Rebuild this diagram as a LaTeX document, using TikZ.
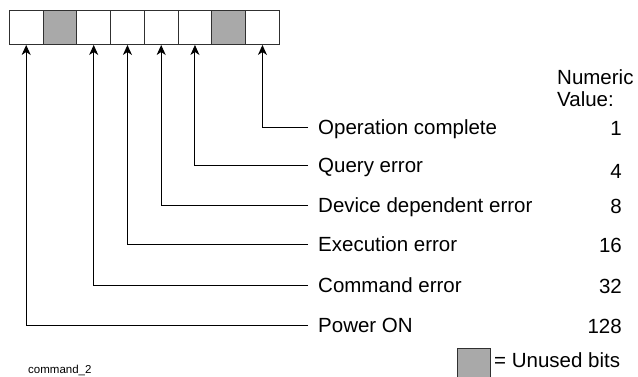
\documentclass[tikz,border=0pt]{standalone}
\usepackage{fontspec}
\setmainfont{Liberation Sans}
\usetikzlibrary{arrows.meta}
\definecolor{unused}{HTML}{A9A9A9}
\definecolor{edge}{HTML}{303030}
\tikzset{
  bitbox/.style={draw=edge, line width=0.95pt, minimum width=33.75pt, minimum height=34pt, inner sep=0pt, fill=white},
  unusedbox/.style={bitbox, fill=unused},
  lab/.style={anchor=west, inner xsep=10pt, inner ysep=0pt, text height=14.7pt, text depth=0pt, font=\fontsize{20.5}{24}\selectfont},
  num/.style={anchor=base east, inner sep=0pt, font=\fontsize{20.5}{24}\selectfont},
  conn/.style={draw=black, line width=0.95pt, -{Stealth[length=10pt,width=9pt,inset=3pt]}},
}
\begin{document}
\begin{tikzpicture}[x=1pt,y=-1pt]
\useasboundingbox (0,0) rectangle (638,377);
% register
\foreach \i/\s in {0/bitbox,1/unusedbox,2/bitbox,3/bitbox,4/bitbox,5/bitbox,6/unusedbox,7/bitbox}{
  \node[\s] (b\i) at ({26.2+33.75*\i},27.5) {};
}
% labels
\node[lab] (l0) at (308,127) {Operation complete};
\node[lab] (l1) at (308,165) {Query error};
\node[lab] (l2) at (308,205) {Device dependent error};
\node[lab] (l3) at (308,244) {Execution error};
\node[lab] (l4) at (308,285) {Command error};
\node[lab] (l5) at (308,325) {Power ON};
% connectors
\draw[conn] (l0.west) -| (b7.south);
\draw[conn] (l1.west) -| (b5.south);
\draw[conn] (l2.west) -| (b4.south);
\draw[conn] (l3.west) -| (b3.south);
\draw[conn] (l4.west) -| (b2.south);
\draw[conn] (l5.west) -| (b0.south);
% numeric values
\node[anchor=base west, inner sep=0pt, font=\fontsize{20.5}{24}\selectfont] (nv1) at (557,85) {Numeric};
\node[anchor=base west, inner sep=0pt, font=\fontsize{20.5}{24}\selectfont] (nv2) at (557,107) {Value:};
\node[num] (n0) at (622,135.5) {1};
\node[num] (n1) at (622,178.5) {4};
\node[num] (n2) at (622,213.5) {8};
\node[num] (n3) at (622,252.5) {16};
\node[num] (n4) at (622,293.5) {32};
\node[num] (n5) at (622,333.5) {128};
% legend
\node[unusedbox, minimum width=33pt, minimum height=29pt] (leg) at (473.5,362.5) {};
\node[anchor=west, inner sep=0pt, font=\fontsize{20.5}{24}\selectfont] (legt) at (494,360) {= Unused bits};
% figure id
\node[anchor=base west, inner sep=0pt, font=\fontsize{11.5}{13}\selectfont] (fid) at (28,373) {command\_2};
\end{tikzpicture}
\end{document}
